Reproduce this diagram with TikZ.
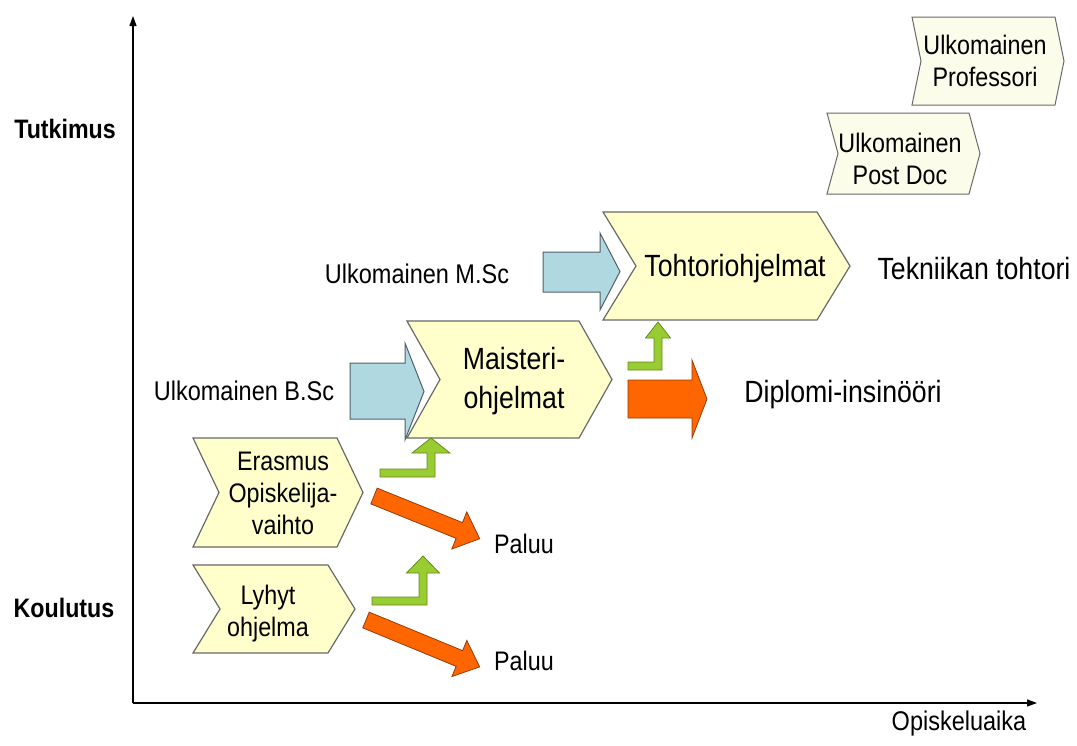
\documentclass[tikz,border=0pt]{standalone}
\usepackage{fontspec}
\setmainfont{Liberation Sans}
\usepackage{graphicx}
\usetikzlibrary{arrows.meta}
\definecolor{chevfill}{RGB}{255,255,204}
\definecolor{chevpale}{RGB}{252,252,234}
\definecolor{chevline}{RGB}{105,105,105}
\definecolor{bluefill}{RGB}{176,216,224}
\definecolor{blueline}{RGB}{80,96,104}
\definecolor{orangefill}{RGB}{255,102,0}
\definecolor{orangeline}{RGB}{150,60,10}
\definecolor{greenfill}{RGB}{153,204,51}
\definecolor{greenline}{RGB}{100,140,25}
\newcommand\tx[1]{\scalebox{1}[1.15]{\begin{tabular}{@{}c@{}}#1\end{tabular}}}
% style, x1, y1, x2, y2, depth
\newcommand\chev[6]{\draw[#1] (#2,#3) -- ({#4-#6},#3) -- (#4,{(#3+#5)/2}) -- ({#4-#6},#5) -- (#2,#5) -- ({#2+#6},{(#3+#5)/2}) -- cycle;}
% x0, yb, t, xv, yh, ytip, halfhead
\newcommand\greenup[7]{\draw[greenarr] (#1,#2) -- (#1,{#2-#3}) -- (#4,{#2-#3}) -- (#4,#5) -- ({#4+#3/2-#7},#5) -- ({#4+#3/2},#6) -- ({#4+#3/2+#7},#5) -- ({#4+#3},#5) -- ({#4+#3},#2) -- cycle;}
% style, x0, x1, xtip, ys1, ys2, yh1, yh2
\newcommand\harrow[8]{\draw[#1] (#2,#5) -- (#3,#5) -- (#3,#7) -- (#4,{(#7+#8)/2}) -- (#3,#8) -- (#3,#6) -- (#2,#6) -- cycle;}
\begin{document}
\begin{tikzpicture}[x=1pt,y=-1pt,
  chevbox/.style={draw=chevline,fill=chevfill,line width=1.2pt,line join=miter},
  chevpalebox/.style={draw=chevline,fill=chevpale,line width=1pt},
  bluearr/.style={draw=blueline,fill=bluefill,line width=1pt},
  orangearr/.style={draw=orangeline,fill=orangefill,line width=0.8pt},
  greenarr/.style={draw=greenline,fill=greenfill,line width=0.8pt},
  axisline/.style={line width=1.1pt,-{Triangle[length=10pt,width=7pt]}},
  lbl/.style={inner sep=0pt,font=\fontsize{23.5}{28}\selectfont},
  boxtxt/.style={inner sep=0pt,font=\fontsize{23.3}{28}\selectfont},
  bigtxt/.style={inner sep=0pt,font=\fontsize{26.7}{34}\selectfont},
  axtxt/.style={inner sep=0pt,font=\bfseries\fontsize{23.2}{28}\selectfont}]
\useasboundingbox[fill=white] (0,0) rectangle (1077,745);

% axes
\coordinate (o) at (133,703);
\coordinate (ytop) at (133,16);
\coordinate (xend) at (1037,703);
\draw[axisline] (o) -- (ytop);
\draw[axisline] (o) -- (xend);
\node[axtxt] (tutkimus) at (65,132) {\tx{Tutkimus}};
\node[axtxt] (koulutus) at (64,611) {\tx{Koulutus}};
\node[lbl] (opisk) at (959,724) {\tx{Opiskeluaika}};

% chevrons
\chev{chevbox}{193}{438}{363}{547}{26}
\chev{chevbox}{193}{565}{355}{653}{27}
\chev{chevbox}{407}{321}{612}{438}{33}
\chev{chevbox}{603}{212}{850}{320}{33}
\chev{chevpalebox}{827}{113}{980}{194}{11}
\chev{chevpalebox}{912}{17}{1064}{105}{9}

\node[boxtxt] (erasmus) at (283,496) {\tx{Erasmus\\Opiskelija-\\vaihto}};
\node[boxtxt] (lyhyt) at (268,614) {\tx{Lyhyt\\ohjelma}};
\node[bigtxt] (maisteri) at (514,381) {\tx{Maisteri-\\ohjelmat}};
\node[bigtxt] (tohtori) at (735,269) {\tx{Tohtoriohjelmat}};
\node[boxtxt] (postdoc) at (900,162) {\tx{Ulkomainen\\Post Doc}};
\node[boxtxt] (prof) at (985,64) {\tx{Ulkomainen\\Professori}};

% labels
\node[lbl] (bsc) at (244,394) {\tx{Ulkomainen B.Sc}};
\node[lbl] (msc) at (417,277) {\tx{Ulkomainen M.Sc}};
\node[bigtxt] (tekn) at (974,272) {\tx{Tekniikan tohtori}};
\node[bigtxt] (dipl) at (843,395) {\tx{Diplomi-insinööri}};
\node[boxtxt] (paluu1) at (524,547) {\tx{Paluu}};
\node[boxtxt] (paluu2) at (524,664) {\tx{Paluu}};

% blue arrows
\harrow{bluearr}{350}{405}{424}{363}{419}{343}{440}
\harrow{bluearr}{543}{600}{620}{252}{292}{233}{310}
% orange horizontal arrow
\harrow{orangearr}{628}{692}{707}{380}{418}{360}{438}
% orange diagonal arrows
\begin{scope}[shift={(374,496)},rotate=-22]
\draw[orangearr] (0,-8.5) -- (92,-8.5) -- (92,-20) -- (114,0) -- (92,20) -- (92,8.5) -- (0,8.5) -- cycle;
\end{scope}
\begin{scope}[shift={(366,620)},rotate=-22.4]
\draw[orangearr] (0,-8.5) -- (101,-8.5) -- (101,-19.5) -- (123,0) -- (101,19.5) -- (101,8.5) -- (0,8.5) -- cycle;
\end{scope}
% green bent arrows
\greenup{380}{477}{8}{427}{453}{438}{19}
\greenup{372}{605}{8}{419}{573}{556}{16.5}
\greenup{628}{370}{8}{654}{338}{322}{12.5}
\end{tikzpicture}
\end{document}
